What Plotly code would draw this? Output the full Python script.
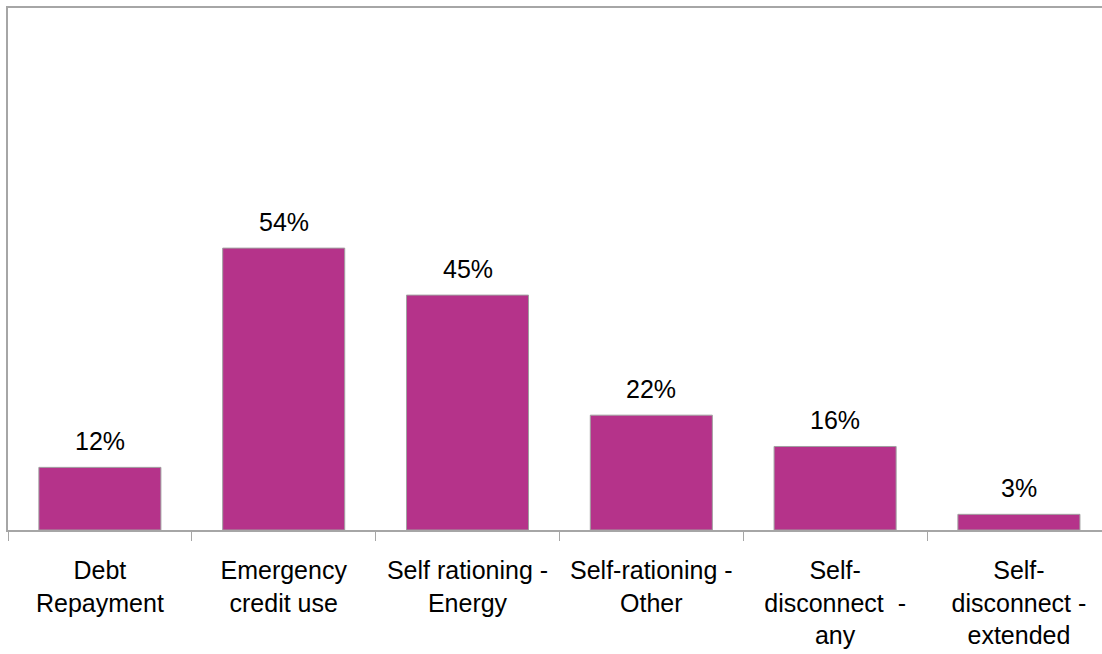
import plotly.graph_objects as go

categories = ["Debt<br>Repayment", "Emergency<br>credit use", "Self rationing -<br>Energy",
              "Self-rationing -<br>Other", "Self-<br>disconnect  -<br>any", "Self-<br>disconnect -<br>extended"]
values = [12, 54, 45, 22, 16, 3]
labels = [f"{v}%" for v in values]

FONT = "Liberation Sans, Arial"
fig = go.Figure(go.Bar(
    x=categories, y=values,
    marker=dict(color="#B5338A", line=dict(color="#A0A0A0", width=1)),
    width=0.664,
))
for c, v, t in zip(categories, values, labels):
    fig.add_annotation(x=c, y=v, text=t, showarrow=False, yanchor="bottom", yshift=10,
                       font=dict(size=25, color="black", family=FONT))
fig.update_layout(
    width=1102, height=654, margin=dict(l=8, r=0, t=8, b=124),
    plot_bgcolor="white", paper_bgcolor="white", showlegend=False,
    font=dict(family=FONT, size=25, color="black"),
    xaxis=dict(type="category", range=[-0.5, 5.452], showline=True, linecolor="#A6A6A6",
               linewidth=2, mirror=True, ticks="outside", ticklen=9, tickcolor="#A6A6A6",
               tickwidth=1, tickson="boundaries", showgrid=False, ticklabelstandoff=17,
               tickfont=dict(size=25, color="black")),
    yaxis=dict(range=[0, 100], showline=True, linecolor="#A6A6A6", linewidth=2,
               showticklabels=False, ticks="", showgrid=False, zeroline=False),
)
fig.write_html("out.html")
